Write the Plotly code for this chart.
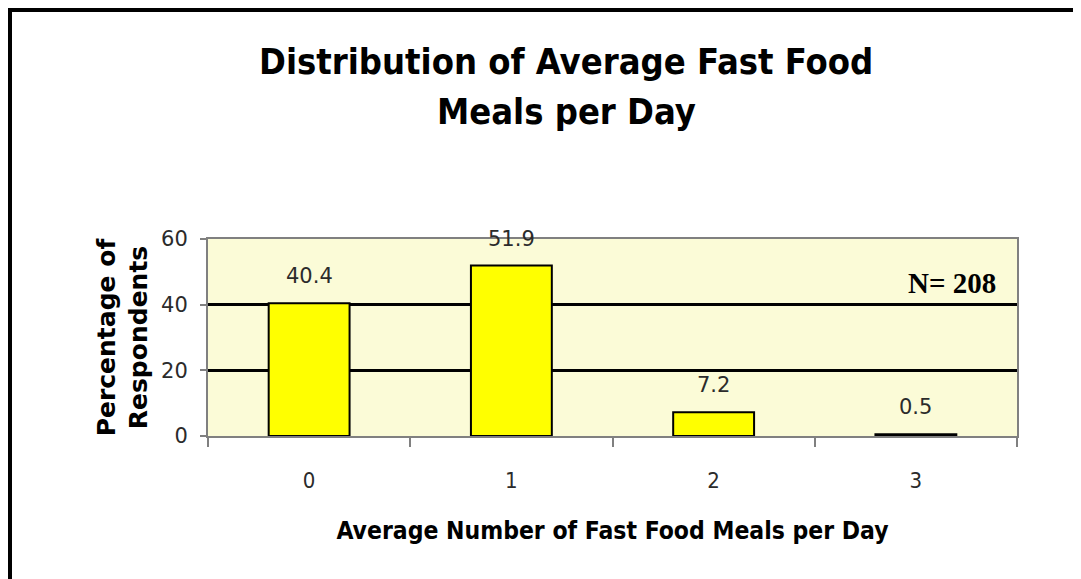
import plotly.graph_objects as go

# ---- data ----
categories = ["0", "1", "2", "3"]
percentages = [40.4, 51.9, 7.2, 0.5]
value_labels = ["40.4", "51.9", "7.2", "0.5"]
y_ticks = [0, 20, 40, 60]
title_lines = ["Distribution of Average Fast Food", "Meals per Day"]
x_title = "Average Number of Fast Food Meals per Day"
y_title = "Percentage of<br>Respondents"
n_text = "N= 208"

W, H = 1081, 579
OFF = 8  # default page body margin
L, R, T, B = 208, 64, 239, 143
PW, PH = W - L - R, H - T - B

def px_x(p):
    return (p - L) / PW

def px_y(p):
    return (H - B - p) / PH

fig = go.Figure()
fig.add_trace(go.Bar(
    x=categories, y=percentages, width=0.4,
    marker=dict(color="#FFFF00", line=dict(color="black", width=2)),
    hoverinfo="x+y", showlegend=False,
))

for c, v, t in zip(categories, percentages, value_labels):
    fig.add_annotation(x=c, y=v, text=t, showarrow=False, yshift=27,
                       yanchor="middle", xanchor="center",
                       font=dict(family="DejaVu Sans", size=21, color="#2b2b2b"))

fig.add_annotation(x=1, xref="paper", xanchor="right", xshift=-19,
                   y=px_y(283), yref="paper", yanchor="middle",
                   text="<b>" + n_text + "</b>", showarrow=False,
                   font=dict(family="Liberation Serif", size=29, color="black"))

# chart title (two lines)
for line, ymid in zip(title_lines, [61, 111]):
    fig.add_annotation(x=px_x(566), xref="paper", xanchor="center",
                       y=px_y(ymid), yref="paper", yanchor="middle",
                       text="<b>" + line + "</b>", showarrow=False,
                       font=dict(family="DejaVu Sans Condensed", size=36, color="black"))

# outer frame (left and top)
fig.add_shape(type="line", xref="paper", yref="paper",
              x0=px_x(9.5), x1=px_x(W + 5), y0=px_y(9.5), y1=px_y(9.5),
              line=dict(color="black", width=5))
fig.add_shape(type="line", xref="paper", yref="paper",
              x0=px_x(9.5), x1=px_x(9.5), y0=px_y(7), y1=px_y(H + 5),
              line=dict(color="black", width=5))

fig.update_layout(
    width=W - OFF, height=H - OFF,
    margin=dict(l=L - OFF, r=R, t=T - OFF, b=B, pad=0),
    paper_bgcolor="white",
    plot_bgcolor="#FBFBD7",
    xaxis=dict(
        type="category", tickson="boundaries", ticks="outside", ticklen=9,
        tickcolor="#808080", tickwidth=1.5,
        showline=True, linecolor="#808080", linewidth=2, mirror=True,
        showgrid=False, ticklabelstandoff=24,
        tickfont=dict(family="DejaVu Sans Condensed", size=22, color="#2b2b2b"),
        title=dict(text="<b>" + x_title + "</b>", standoff=29,
                   font=dict(family="DejaVu Sans Condensed", size=24.5, color="black")),
    ),
    yaxis=dict(
        range=[0, 60], tickvals=y_ticks, ticks="outside", ticklen=6,
        tickcolor="#808080", tickwidth=1.5,
        showline=True, linecolor="#808080", linewidth=2, mirror=True,
        showgrid=True, gridcolor="black", gridwidth=2.5, zeroline=False,
        ticklabelstandoff=8,
        tickfont=dict(family="DejaVu Sans", size=21, color="#2b2b2b"),
        title=dict(text="<b>" + y_title + "</b>", standoff=6,
                   font=dict(family="DejaVu Sans", size=25, color="black")),
    ),
)

fig.write_html("out.html")
